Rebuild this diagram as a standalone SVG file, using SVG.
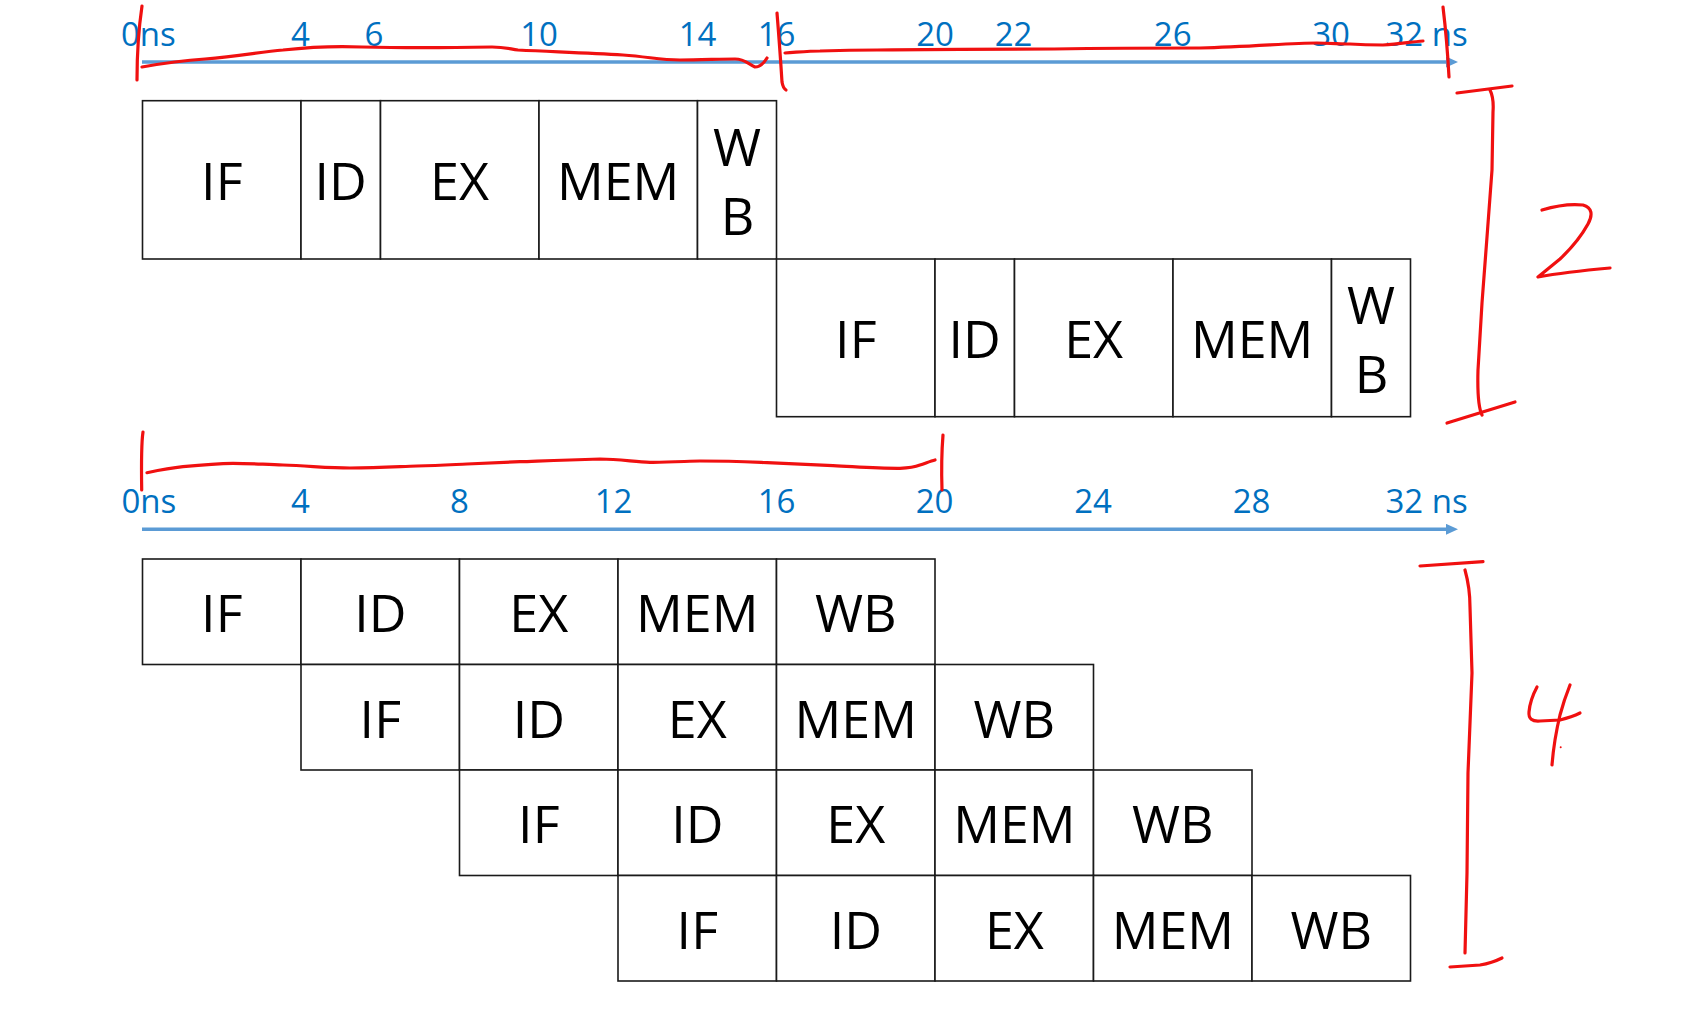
<svg xmlns="http://www.w3.org/2000/svg" width="1681" height="1017" viewBox="0 0 1681 1017">
<style>
  .cell { fill: #ffffff; stroke: #1a1a1a; stroke-width: 1.6; }
  .lbl { font-family: "Open Sans", "Noto Sans", "Liberation Sans", sans-serif; font-size: 52px; fill: #000000; text-anchor: middle; }
  .tick { font-family: "Open Sans", "Noto Sans", "Liberation Sans", sans-serif; font-size: 33px; fill: #0070C0; text-anchor: middle; }
  .tick.s { text-anchor: start; }
  .axis { stroke: #5B9BD5; stroke-width: 3.5; fill: none; marker-end: url(#arr); }
  .ink { stroke: #F01010; stroke-width: 3.2; fill: none; stroke-linecap: round; stroke-linejoin: round; }
</style>
<defs>
  <marker id="arr" viewBox="0 0 12 11" refX="0" refY="5.5" markerWidth="12" markerHeight="11" markerUnits="userSpaceOnUse" orient="auto">
    <path d="M0,0 L12,5.5 L0,11 z" fill="#5B9BD5"/>
  </marker>
</defs>
<rect width="1681" height="1017" fill="#ffffff"/>

<g id="connectors">
  <line id="axis-top" class="axis" x1="142" y1="62" x2="1446" y2="62"/>
  <line id="axis-bottom" class="axis" x1="142" y1="529.3" x2="1446" y2="529.3"/>
</g>

<g id="axis-top-labels">
  <text class="tick s" x="121" y="46">0ns</text>
  <text class="tick" x="300.5" y="46">4</text>
  <text class="tick" x="374" y="46">6</text>
  <text class="tick" x="539" y="46">10</text>
  <text class="tick" x="697.5" y="46">14</text>
  <text class="tick" x="776.6" y="46">16</text>
  <text class="tick" x="935" y="46">20</text>
  <text class="tick" x="1013.5" y="46">22</text>
  <text class="tick" x="1172.7" y="46">26</text>
  <text class="tick" x="1331" y="46">30</text>
  <text class="tick s" x="1385.5" y="46">32 ns</text>
</g>

<g id="axis-bottom-labels">
  <text class="tick s" x="121.5" y="513">0ns</text>
  <text class="tick" x="300.5" y="513">4</text>
  <text class="tick" x="459.5" y="513">8</text>
  <text class="tick" x="613.5" y="513">12</text>
  <text class="tick" x="776.6" y="513">16</text>
  <text class="tick" x="934.5" y="513">20</text>
  <text class="tick" x="1093" y="513">24</text>
  <text class="tick" x="1251.5" y="513">28</text>
  <text class="tick s" x="1385.5" y="513">32 ns</text>
</g>

<!-- Non-pipelined: instruction 1 -->
<g id="np1-IF"><rect class="cell" x="142.5" y="100.7" width="158.5" height="158.3"/><text class="lbl" x="221.8" y="200">IF</text></g>
<g id="np1-ID"><rect class="cell" x="301" y="100.7" width="79.5" height="158.3"/><text class="lbl" x="340.7" y="200">ID</text></g>
<g id="np1-EX"><rect class="cell" x="380.5" y="100.7" width="158.5" height="158.3"/><text class="lbl" x="459.5" y="200">EX</text></g>
<g id="np1-MEM"><rect class="cell" x="539" y="100.7" width="158.5" height="158.3"/><text class="lbl" x="618.1" y="200">MEM</text></g>
<g id="np1-WB"><rect class="cell" x="697.5" y="100.7" width="79" height="158.3"/><text class="lbl" x="737" y="166">W</text><text class="lbl" x="737.5" y="235">B</text></g>

<!-- Non-pipelined: instruction 2 -->
<g id="np2-IF"><rect class="cell" x="776.5" y="259" width="158.5" height="157.7"/><text class="lbl" x="855.8" y="358">IF</text></g>
<g id="np2-ID"><rect class="cell" x="935" y="259" width="79.5" height="157.7"/><text class="lbl" x="974.7" y="358">ID</text></g>
<g id="np2-EX"><rect class="cell" x="1014.5" y="259" width="158.5" height="157.7"/><text class="lbl" x="1093.6" y="358">EX</text></g>
<g id="np2-MEM"><rect class="cell" x="1173" y="259" width="158.5" height="157.7"/><text class="lbl" x="1252.1" y="358">MEM</text></g>
<g id="np2-WB"><rect class="cell" x="1331.5" y="259" width="79" height="157.7"/><text class="lbl" x="1371" y="323.5">W</text><text class="lbl" x="1371.5" y="393">B</text></g>

<!-- Pipelined: instruction 1 -->
<g id="p1-IF"><rect class="cell" x="142.5" y="559" width="158.5" height="105.5"/><text class="lbl" x="221.8" y="632">IF</text></g>
<g id="p1-ID"><rect class="cell" x="301" y="559" width="158.5" height="105.5"/><text class="lbl" x="380.3" y="632">ID</text></g>
<g id="p1-EX"><rect class="cell" x="459.5" y="559" width="158.5" height="105.5"/><text class="lbl" x="538.8" y="632">EX</text></g>
<g id="p1-MEM"><rect class="cell" x="618" y="559" width="158.5" height="105.5"/><text class="lbl" x="697.3" y="632">MEM</text></g>
<g id="p1-WB"><rect class="cell" x="776.5" y="559" width="158.5" height="105.5"/><text class="lbl" x="855.8" y="632">WB</text></g>

<!-- Pipelined: instruction 2 -->
<g id="p2-IF"><rect class="cell" x="301" y="664.5" width="158.5" height="105.5"/><text class="lbl" x="380.3" y="737.5">IF</text></g>
<g id="p2-ID"><rect class="cell" x="459.5" y="664.5" width="158.5" height="105.5"/><text class="lbl" x="538.8" y="737.5">ID</text></g>
<g id="p2-EX"><rect class="cell" x="618" y="664.5" width="158.5" height="105.5"/><text class="lbl" x="697.3" y="737.5">EX</text></g>
<g id="p2-MEM"><rect class="cell" x="776.5" y="664.5" width="158.5" height="105.5"/><text class="lbl" x="855.8" y="737.5">MEM</text></g>
<g id="p2-WB"><rect class="cell" x="935" y="664.5" width="158.5" height="105.5"/><text class="lbl" x="1014.4" y="737.5">WB</text></g>

<!-- Pipelined: instruction 3 -->
<g id="p3-IF"><rect class="cell" x="459.5" y="770" width="158.5" height="105.5"/><text class="lbl" x="538.8" y="843">IF</text></g>
<g id="p3-ID"><rect class="cell" x="618" y="770" width="158.5" height="105.5"/><text class="lbl" x="697.3" y="843">ID</text></g>
<g id="p3-EX"><rect class="cell" x="776.5" y="770" width="158.5" height="105.5"/><text class="lbl" x="855.8" y="843">EX</text></g>
<g id="p3-MEM"><rect class="cell" x="935" y="770" width="158.5" height="105.5"/><text class="lbl" x="1014.4" y="843">MEM</text></g>
<g id="p3-WB"><rect class="cell" x="1093.5" y="770" width="158.5" height="105.5"/><text class="lbl" x="1172.9" y="843">WB</text></g>

<!-- Pipelined: instruction 4 -->
<g id="p4-IF"><rect class="cell" x="618" y="875.5" width="158.5" height="105.5"/><text class="lbl" x="697.3" y="948.5">IF</text></g>
<g id="p4-ID"><rect class="cell" x="776.5" y="875.5" width="158.5" height="105.5"/><text class="lbl" x="855.8" y="948.5">ID</text></g>
<g id="p4-EX"><rect class="cell" x="935" y="875.5" width="158.5" height="105.5"/><text class="lbl" x="1014.4" y="948.5">EX</text></g>
<g id="p4-MEM"><rect class="cell" x="1093.5" y="875.5" width="158.5" height="105.5"/><text class="lbl" x="1172.9" y="948.5">MEM</text></g>
<g id="p4-WB"><rect class="cell" x="1252" y="875.5" width="158.5" height="105.5"/><text class="lbl" x="1331.4" y="948.5">WB</text></g>

<!-- Handwritten red annotations -->
<g id="annotations">
  <path class="ink" d="M142,6 Q137,40 137,80"/>
  <path class="ink" d="M142,67 C170,62 190,60 205,59 C240,56 260,52 283,50 C310,47 340,46 362,47 C400,48 440,48 492,47 C505,47 510,49 518,50 C560,52 590,53 623,55 C650,57 660,60 680,60 C700,60 720,59 735,59 C745,59 748,64 755,67 C760,67 764,63 767,58"/>
  <path class="ink" d="M777,13 Q780,50 782,82 Q783,88 786,90"/>
  <path class="ink" d="M785,53 C800,52 810,51 820,51 C850,50 870,50 877,50 C950,49 1000,49 1054,49 C1120,48 1170,48 1200,48 C1250,47 1290,43 1317,43 C1330,43 1340,44 1350,44 C1365,45 1375,45 1383,45 C1400,44 1410,42 1423,41"/>
  <path class="ink" d="M1443,7 Q1447,40 1449,77"/>

  <path class="ink" d="M1457,93 L1512,86"/>
  <path class="ink" d="M1490,90 Q1494,98 1493,112 L1492,170 L1487,237 L1482,303 L1478,370 Q1477,405 1482,415"/>
  <path class="ink" d="M1447,423 L1515,402"/>
  <path class="ink" d="M1542,210 Q1565,203 1583,205 Q1596,209 1588,224 Q1578,242 1560,259 L1538,277 Q1565,272 1610,268"/>

  <path class="ink" d="M143,432 Q141,445 141.7,490"/>
  <path class="ink" d="M147,472.7 C160,470 170,468 183,466.7 C200,465 215,463.5 233,463.3 C250,463.3 265,464.5 283,465 C310,466 330,468 350,468 C380,468 400,466.5 417,466 C440,465.5 455,464.5 467,464 C490,463 505,462.3 520,461.7 C540,461 560,460 600,459 C620,459 635,462 650,462.3 C670,462.5 690,461 700,461 C730,461 750,462 767,462.7 C800,464 820,465 833,465.7 C860,467 880,468.5 900,468.3 C910,468 915,467 920,465 C926,463 931,461 935,460"/>
  <path class="ink" d="M943,435 Q941,460 942,490"/>

  <path class="ink" d="M1420,566 L1483,561.7"/>
  <path class="ink" d="M1465,570 Q1470,588 1470,607 L1472,673 L1468,773 L1467,873 L1465,953"/>
  <path class="ink" d="M1450,967 L1480,965 Q1492,963 1502,958"/>
  <path class="ink" d="M1537,687 Q1530,700 1529,712 Q1528,722 1540,721 L1560,720 Q1572,717 1580,713"/>
  <path class="ink" d="M1570,685 Q1564,700 1560,715 Q1554,740 1552,765"/>
  <circle cx="1560.7" cy="747.3" r="1" fill="#F01010"/>
</g>
</svg>
